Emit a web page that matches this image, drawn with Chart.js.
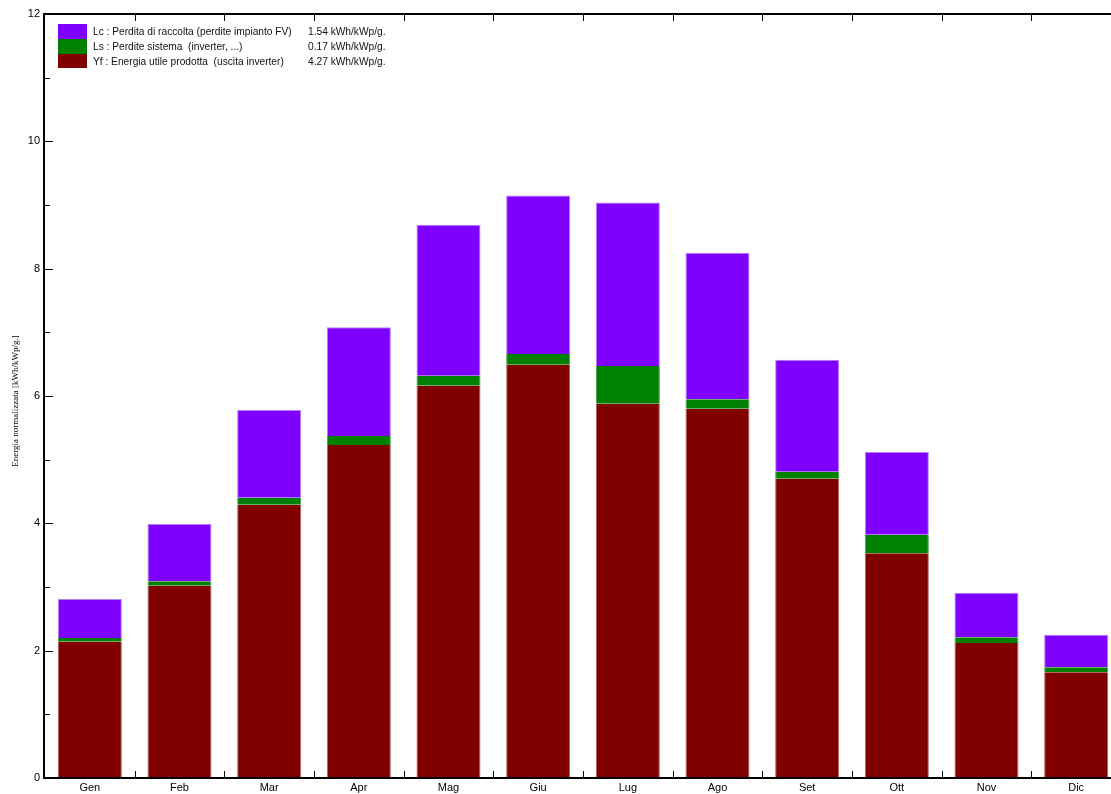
<!DOCTYPE html>
<html>
<head>
<meta charset="utf-8">
<script src="https://cdn.jsdelivr.net/npm/chart.js@4/dist/chart.umd.min.js"></script>
<style>
  html, body { margin: 0; padding: 0; overflow: hidden; background: #fff; }
  #wrap { position: absolute; left: 0; top: 0; width: 1121px; height: 794px; }
</style>
</head>
<body>
<div id="wrap"><canvas id="energyChart"></canvas></div>
<script>
// Monthly values (kWh/kWp/g.)
const months = ['Gen', 'Feb', 'Mar', 'Apr', 'Mag', 'Giu', 'Lug', 'Ago', 'Set', 'Ott', 'Nov', 'Dic'];
const yfValues = [2.14, 3.02, 4.29, 5.23, 6.16, 6.49, 5.88, 5.80, 4.70, 3.53, 2.12, 1.66];
const lsValues = [0.06, 0.07, 0.11, 0.14, 0.16, 0.17, 0.59, 0.15, 0.11, 0.29, 0.09, 0.08];
const lcValues = [0.61, 0.90, 1.38, 1.71, 2.37, 2.49, 2.57, 2.30, 1.76, 1.30, 0.70, 0.51];
const yTicks = [0, 2, 4, 6, 8, 10, 12];

const legendRows = [
    { color: '#8000ff', text: 'Lc : Perdita di raccolta (perdite impianto FV)', value: '1.54 kWh/kWp/g.' },
    { color: '#008000', text: 'Ls : Perdite sistema  (inverter, ...)', value: '0.17 kWh/kWp/g.' },
    { color: '#800000', text: 'Yf : Energia utile prodotta  (uscita inverter)', value: '4.27 kWh/kWp/g.' }
];

// Frame, tick marks, axis title and legend box
const framePlugin = {
    id: 'frame',
    afterDraw(chart) {
        const { ctx, chartArea: a, scales: { x, y } } = chart;
        ctx.save();

        ctx.strokeStyle = '#000';
        ctx.lineWidth = 2;
        ctx.beginPath();
        ctx.moveTo(a.left - 1, a.top - 1);
        ctx.lineTo(a.left - 1, a.bottom + 1);
        ctx.moveTo(a.left - 2, a.top);
        ctx.lineTo(a.right + 20, a.top);
        ctx.moveTo(a.left - 2, a.bottom);
        ctx.lineTo(a.right + 20, a.bottom);
        ctx.stroke();

        ctx.lineWidth = 1;
        ctx.beginPath();
        for (let v = 0; v <= 12; v++) {
            const py = Math.round(y.getPixelForValue(v)) + 0.5;
            const len = v % 2 === 0 ? 8 : 5;
            ctx.moveTo(a.left, py);
            ctx.lineTo(a.left + len, py);
        }
        for (let i = 1; i < months.length; i++) {
            const bx = Math.round((x.getPixelForValue(i - 1) + x.getPixelForValue(i)) / 2) + 0.5;
            ctx.moveTo(bx, a.bottom);
            ctx.lineTo(bx, a.bottom - 7);
            ctx.moveTo(bx, a.top);
            ctx.lineTo(bx, a.top + 7);
        }
        ctx.stroke();

        // y axis title
        ctx.fillStyle = '#000';
        ctx.font = '9px "Liberation Serif"';
        ctx.textAlign = 'center';
        ctx.textBaseline = 'middle';
        ctx.translate(16, 401);
        ctx.rotate(-Math.PI / 2);
        ctx.fillText('Energia normalizzata [kWh/kWp/g.]', 0, 0);
        ctx.setTransform(1, 0, 0, 1, 0, 0);

        // legend
        ctx.font = '10.2px "Liberation Sans"';
        ctx.textAlign = 'left';
        legendRows.forEach((r, i) => {
            const top = 24 + i * 15;
            ctx.fillStyle = r.color;
            ctx.fillRect(58, top, 29, i === 2 ? 14 : 15);
            ctx.fillStyle = '#111';
            ctx.fillText(r.text, 93, top + 8);
            ctx.fillText(r.value, 308, top + 8);
        });

        ctx.restore();
    }
};

const ctx = document.getElementById('energyChart').getContext('2d');
new Chart(ctx, {
    type: 'bar',
    data: {
        labels: months,
        datasets: [
            {
                label: 'Yf',
                data: yfValues,
                backgroundColor: '#800000',
                borderColor: '#b06060',
                borderWidth: { left: 1, right: 1, top: 0, bottom: 0 },
                borderSkipped: false
            },
            {
                label: 'Ls',
                data: lsValues,
                backgroundColor: '#008000',
                borderColor: '#40a040',
                borderWidth: { left: 1, right: 1, top: 0, bottom: 0 },
                borderSkipped: false
            },
            {
                label: 'Lc',
                data: lcValues,
                backgroundColor: '#8000ff',
                borderColor: '#b380ff',
                borderWidth: { left: 1, right: 1, top: 1, bottom: 0 },
                borderSkipped: false
            }
        ]
    },
    options: {
        responsive: true,
        maintainAspectRatio: false,
        animation: false,
        layout: { padding: { top: 14, right: 0, bottom: 0, left: 0 } },
        plugins: {
            legend: { display: false },
            tooltip: { enabled: false }
        },
        datasets: {
            bar: { barPercentage: 0.714, categoryPercentage: 1.0 }
        },
        scales: {
            x: {
                stacked: true,
                grid: { display: false, drawTicks: false },
                border: { display: false },
                ticks: {
                    color: '#000',
                    font: { family: '"Liberation Sans"', size: 11 },
                    padding: 3,
                    maxRotation: 0
                },
                afterFit(scale) { scale.height = 16; }
            },
            y: {
                stacked: true,
                min: 0,
                max: 12,
                grid: { display: false, drawTicks: false },
                border: { display: false },
                ticks: {
                    stepSize: 2,
                    color: '#000',
                    font: { family: '"Liberation Sans"', size: 11 },
                    padding: 5,
                    callback: (v) => yTicks.includes(v) ? v : ''
                },
                afterFit(scale) { scale.width = 45; }
            }
        }
    },
    plugins: [framePlugin]
});
</script>
</body>
</html>
